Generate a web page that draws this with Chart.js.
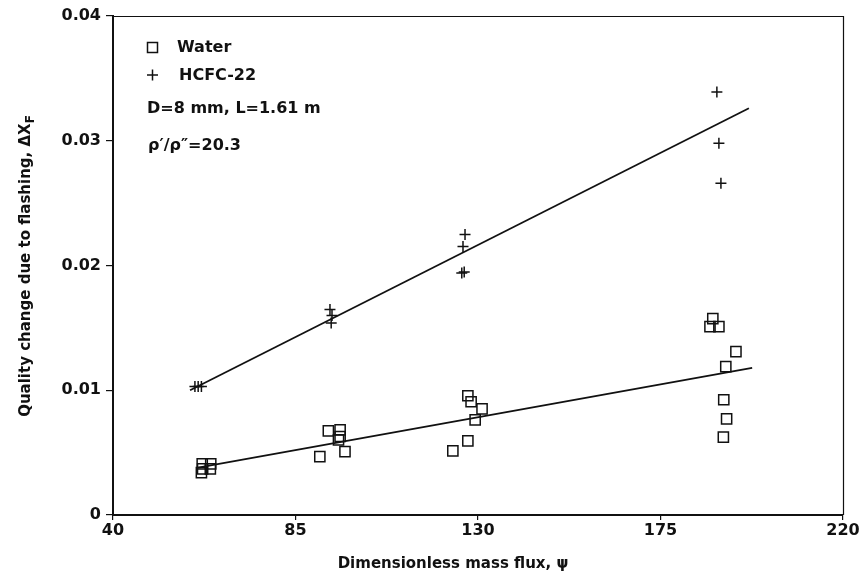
<!DOCTYPE html>
<html><head><meta charset="utf-8">
<script src="https://cdn.jsdelivr.net/npm/chart.js@4.4.1/dist/chart.umd.min.js"></script>
<style>html,body{margin:0;padding:0;background:#fff;}#wrap{width:861px;height:580px;}</style>
</head><body><div id="wrap"><canvas id="c" width="861" height="580"></canvas></div>
<script>
// ---- data ----
const xTicks = [40, 85, 130, 175, 220];
const yTicks = [0, 0.01, 0.02, 0.03, 0.04];

const waterX = [62.0, 64.1, 62.1, 64.0, 61.8, 93.1, 96.0, 96.0, 95.6, 91.0, 97.2, 127.5, 128.3, 131.0, 129.3, 127.5, 123.8, 187.9, 187.2, 189.4, 193.6, 191.1, 190.6, 191.3, 190.5];
const waterY = [0.0041, 0.0041, 0.0037, 0.0037, 0.0034, 0.00675, 0.00683, 0.00629, 0.00602, 0.00468, 0.00508, 0.00956, 0.00908, 0.00851, 0.00763, 0.00594, 0.00514, 0.01574, 0.0151, 0.0151, 0.01309, 0.01189, 0.00924, 0.00771, 0.00624];

const hcfcX = [60.2, 61.0, 61.8, 93.5, 94.0, 93.8, 126.8, 126.3, 126.0, 126.6, 188.9, 189.4, 189.9];
const hcfcY = [0.0103, 0.0103, 0.0103, 0.01647, 0.0160, 0.0154, 0.02249, 0.02153, 0.0194, 0.01948, 0.0339, 0.0298, 0.02659];

const waterFitX = [61.0, 197.6];
const waterFitY = [0.0038, 0.0118];
const hcfcFitX = [59.0, 196.8];
const hcfcFitY = [0.0100, 0.0326];

const legendLabels = ['Water', 'HCFC-22'];
const notes = ['D=8 mm, L=1.61 m', 'ρ′/ρ″=20.3'];
const xTitle = 'Dimensionless mass flux, ψ';
const yTitle = 'Quality change due to flashing, ΔX';
const yTitleSub = 'F';

// ---- helpers ----
const pts = (xs, ys) => xs.map((x, i) => ({x: x, y: ys[i]}));
const INK = '#111';
const FONT = 'DejaVu Sans, Liberation Sans, Arial, sans-serif';

const decor = {
  id: 'decor',
  afterDraw(chart) {
    const ctx = chart.ctx, a = chart.chartArea;
    ctx.save();
    // top and right frame
    ctx.strokeStyle = INK; ctx.lineWidth = 1.2;
    ctx.beginPath();
    ctx.moveTo(a.left, a.top + 0.5); ctx.lineTo(a.right + 0.5, a.top + 0.5); ctx.lineTo(a.right + 0.5, a.bottom);
    ctx.stroke();

    // legend
    ctx.fillStyle = INK;
    ctx.font = 'bold 16px ' + FONT;
    ctx.textBaseline = 'middle'; ctx.textAlign = 'left';
    ctx.lineWidth = 1.5;
    ctx.strokeRect(147.5, 42.5, 10, 10);
    ctx.fillText(legendLabels[0], 177, 48);
    ctx.beginPath();
    ctx.moveTo(147, 75); ctx.lineTo(158, 75);
    ctx.moveTo(152.5, 69.5); ctx.lineTo(152.5, 80.5);
    ctx.stroke();
    ctx.fillText(legendLabels[1], 179, 76);
    ctx.fillText(notes[0], 147, 109);
    ctx.fillText(notes[1], 148, 146);

    // x title
    ctx.font = 'bold 15px ' + FONT;
    ctx.textAlign = 'center';
    ctx.fillText(xTitle, 453, 564);

    // y title with subscript
    ctx.translate(26, 266);
    ctx.rotate(-Math.PI / 2);
    ctx.font = 'bold 15px ' + FONT;
    const w1 = ctx.measureText(yTitle).width;
    ctx.font = 'bold 12px ' + FONT;
    const w2 = ctx.measureText(yTitleSub).width;
    const start = -(w1 + w2) / 2;
    ctx.textAlign = 'left';
    ctx.font = 'bold 15px ' + FONT;
    ctx.fillText(yTitle, start, 0);
    ctx.font = 'bold 12px ' + FONT;
    ctx.fillText(yTitleSub, start + w1, 5);
    ctx.restore();
  }
};

new Chart(document.getElementById('c'), {
  type: 'scatter',
  data: {
    datasets: [
      {label: 'Water fit', data: pts(waterFitX, waterFitY), showLine: true, pointRadius: 0, borderColor: INK, borderWidth: 1.8, fill: false},
      {label: 'HCFC-22 fit', data: pts(hcfcFitX, hcfcFitY), showLine: true, pointRadius: 0, borderColor: INK, borderWidth: 1.8, fill: false},
      {label: legendLabels[0], data: pts(waterX, waterY), pointStyle: 'rect', pointRadius: 7.2, pointBorderWidth: 1.5, borderColor: INK, backgroundColor: 'rgba(0,0,0,0)'},
      {label: legendLabels[1], data: pts(hcfcX, hcfcY), pointStyle: 'cross', pointRadius: 5.5, pointBorderWidth: 1.5, borderColor: INK, backgroundColor: INK}
    ]
  },
  options: {
    responsive: false,
    animation: false,
    devicePixelRatio: 1,
    layout: {padding: {top: 16, right: 18, left: 0, bottom: 0}},
    plugins: {legend: {display: false}, tooltip: {enabled: false}},
    scales: {
      x: {
        type: 'linear', min: 40, max: 220,
        afterBuildTicks: s => { s.ticks = xTicks.map(v => ({value: v})); },
        afterFit: s => { s.height = 65; },
        ticks: {color: INK, font: {family: FONT, size: 16, weight: 'bold'}, padding: 1, maxRotation: 0, autoSkip: false},
        grid: {display: true, drawOnChartArea: false, drawTicks: true, tickLength: 5, color: INK, lineWidth: 1.2},
        border: {display: true, color: INK, width: 2}
      },
      y: {
        type: 'linear', min: 0, max: 0.04,
        afterBuildTicks: s => { s.ticks = yTicks.map(v => ({value: v})); },
        afterFit: s => { s.width = 113; },
        ticks: {color: INK, font: {family: FONT, size: 16, weight: 'bold'}, padding: 5, autoSkip: false,
          callback: v => v === 0 ? '0' : v.toFixed(2)},
        grid: {display: true, drawOnChartArea: false, drawTicks: true, tickLength: 7, color: INK, lineWidth: 1.2},
        border: {display: true, color: INK, width: 2}
      }
    }
  },
  plugins: [decor]
});
</script>
</body></html>
